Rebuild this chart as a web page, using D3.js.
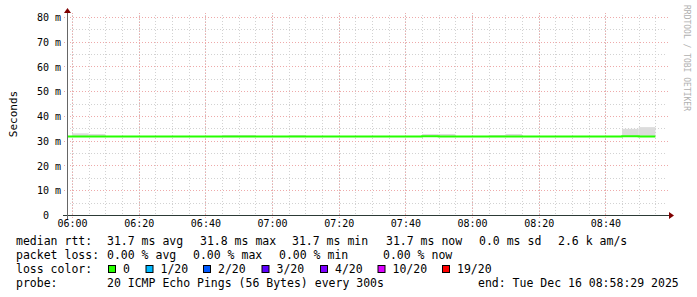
<!DOCTYPE html>
<html>
<head>
<meta charset="utf-8">
<script src="https://cdn.jsdelivr.net/npm/d3@7"></script>
<style>
  body { margin: 0; background: #fff; }
  svg { display: block; }
  text { font-family: "DejaVu Sans Mono", monospace; white-space: pre; }
</style>
</head>
<body>
<svg id="chart" width="697" height="297"></svg>
<script>
// 5 minute steps (start time), median rtt and smoke band (ms)
var stepStarts = ["05:55","06:00","06:05","06:10","06:15","06:20","06:25","06:30","06:35","06:40",
                  "06:45","06:50","06:55","07:00","07:05","07:10","07:15","07:20","07:25","07:30",
                  "07:35","07:40","07:45","07:50","07:55","08:00","08:05","08:10","08:15","08:20",
                  "08:25","08:30","08:35","08:40","08:45","08:50"];
var medianMs = [31.7,31.7,31.7,31.7,31.7,31.7,31.7,31.7,31.7,31.7,
                31.7,31.7,31.7,31.7,31.7,31.7,31.7,31.7,31.7,31.7,
                31.7,31.7,31.8,31.7,31.7,31.7,31.7,31.7,31.7,31.7,
                31.7,31.7,31.7,31.7,31.8,31.7];
var smokeHiMs = [31.9,33.0,32.7,31.9,31.9,31.9,31.9,31.9,31.9,31.9,
                 32.3,32.3,31.9,31.9,32.3,31.9,31.9,31.9,31.9,31.9,
                 31.9,31.9,32.7,32.7,31.9,31.9,32.3,32.7,31.9,31.9,
                 31.9,31.9,31.9,31.9,34.8,35.5];
var smokeLoMs = [31.6,31.6,31.6,31.6,31.6,31.6,31.6,31.6,31.6,31.6,
                 31.6,31.6,31.6,31.6,31.6,31.6,31.6,31.6,31.6,31.6,
                 31.6,31.6,31.6,31.6,31.6,31.6,31.6,31.6,31.6,31.6,
                 31.6,31.6,31.6,31.6,31.6,31.6];
var yTicks = [0, 0.01, 0.02, 0.03, 0.04, 0.05, 0.06, 0.07, 0.08];
var xTickLabels = ["06:00","06:20","06:40","07:00","07:20","07:40","08:00","08:20","08:40"];

var lossLabels = ["0","1/20","2/20","3/20","4/20","10/20","19/20"];
var lossColors = ["#26ff00","#00b8ff","#0059ff","#5e00ff","#7e00ff","#dd00ff","#ff0000"];

var legendRtt = ["31.7 ms avg","31.8 ms max","31.7 ms min","31.7 ms now","0.0 ms sd","2.6 k am/s"];
var legendLoss = ["0.00 % avg","0.00 % max","0.00 % min","0.00 % now"];
var probeText = "20 ICMP Echo Pings (56 Bytes) every 300s";
var endText = "end: Tue Dec 16 08:58:29 2025";

function draw() {
    var day = "2025-12-16T";
    var parseT = d3.timeParse("%Y-%m-%dT%H:%M:%S");
    var tStart = parseT(day + "05:58:29"), tEnd = parseT(day + "08:58:29");

    var svg = d3.select("#chart");
    var pl = 67, pr = 667, pt = 15, pb = 215;

    var x = d3.scaleTime().domain([tStart, tEnd]).range([pl, pr]);
    var y = d3.scaleLinear().domain([0, 0.0808]).range([pb, pt]);

    var steps = stepStarts.map(function(s, i) {
        var t0 = parseT(day + s + ":00");
        return { t0: t0, t1: d3.timeMinute.offset(t0, 5), med: medianMs[i] / 1000,
                 lo: smokeLoMs[i] / 1000, hi: smokeHiMs[i] / 1000 };
    });

    svg.append("defs").append("clipPath").attr("id", "plot")
        .append("rect").attr("x", pl).attr("y", pt).attr("width", pr - pl).attr("height", pb - pt);

    // grid
    var minorX = d3.timeMinute.every(5).range(tStart, tEnd);
    var majorX = d3.timeMinute.every(20).range(tStart, tEnd);
    var minorY = d3.range(0.005, 0.0808, 0.01);
    var minorCol = "#d2d2d2", majorCol = "#eeaaaa";

    var grid = svg.append("g");
    grid.selectAll(".mx").data(minorX).enter().append("line")
        .attr("x1", function(d) { return Math.round(x(d)) + 0.5; })
        .attr("x2", function(d) { return Math.round(x(d)) + 0.5; })
        .attr("y1", pt).attr("y2", pb)
        .attr("stroke", minorCol).attr("stroke-dasharray", "1,2");
    grid.selectAll(".my").data(minorY).enter().append("line")
        .attr("y1", function(d) { return Math.round(y(d)) + 0.5; })
        .attr("y2", function(d) { return Math.round(y(d)) + 0.5; })
        .attr("x1", pl).attr("x2", pr)
        .attr("stroke", minorCol).attr("stroke-dasharray", "1,2");
    grid.selectAll(".Mx").data(majorX).enter().append("line")
        .attr("x1", function(d) { return Math.round(x(d)) + 0.5; })
        .attr("x2", function(d) { return Math.round(x(d)) + 0.5; })
        .attr("y1", pt - 2).attr("y2", pb + 3)
        .attr("stroke", majorCol).attr("stroke-dasharray", "1,2");
    grid.selectAll(".My").data(yTicks.slice(1)).enter().append("line")
        .attr("y1", function(d) { return Math.round(y(d)) + 0.5; })
        .attr("y2", function(d) { return Math.round(y(d)) + 0.5; })
        .attr("x1", pl - 3).attr("x2", pr + 2)
        .attr("stroke", majorCol).attr("stroke-dasharray", "1,2");

    // smoke
    var plot = svg.append("g").attr("clip-path", "url(#plot)");
    plot.selectAll("rect.smoke").data(steps).enter().append("rect")
        .attr("class", "smoke")
        .attr("x", function(d) { return x(d.t0); })
        .attr("width", function(d) { return x(d.t1) - x(d.t0); })
        .attr("y", function(d) { return y(d.hi); })
        .attr("height", function(d) { return y(d.lo) - y(d.hi); })
        .attr("fill", "#dcdcdc");

    // median line
    var pts = [];
    steps.forEach(function(d) { pts.push([d.t0, d.med]); pts.push([d.t1, d.med]); });
    var line = d3.line().x(function(d) { return x(d[0]); }).y(function(d) { return y(d[1]); });
    plot.append("path").datum(pts)
        .attr("d", line).attr("fill", "none")
        .attr("stroke", lossColors[0]).attr("stroke-width", 2);

    // axes
    var axisColor = "#2c3a36", arrowColor = "#7f0000";
    svg.append("line").attr("x1", pl - 4).attr("x2", pr + 3)
        .attr("y1", pb + 0.5).attr("y2", pb + 0.5).attr("stroke", axisColor);
    svg.append("line").attr("x1", pl + 0.5).attr("x2", pl + 0.5)
        .attr("y1", pb + 4).attr("y2", pt - 2).attr("stroke", "#666");
    svg.append("path").attr("d", "M" + (pr + 2) + "," + (pb - 3) + "L" + (pr + 7) + "," + (pb + 0.5) + "L" + (pr + 2) + "," + (pb + 4) + "Z")
        .attr("fill", arrowColor);
    svg.append("path").attr("d", "M" + (pl - 3) + "," + (pt - 2) + "L" + (pl + 0.5) + "," + (pt - 7) + "L" + (pl + 4) + "," + (pt - 2) + "Z")
        .attr("fill", arrowColor);

    var yAxis = d3.axisLeft(y).tickValues(yTicks).tickSize(0).tickPadding(0)
        .tickFormat(function(d) { return d === 0 ? "0  " : Math.round(d * 1000) + " m"; });
    var gy = svg.append("g").attr("transform", "translate(" + (pl - 6) + ",0)").call(yAxis);
    gy.select(".domain").remove();
    gy.selectAll("text").attr("font-family", "DejaVu Sans Mono").attr("font-size", "10px")
        .attr("fill", "#000").attr("dy", "0.36em");

    var xAxis = d3.axisBottom(x).tickValues(majorX).tickSize(0).tickPadding(0)
        .tickFormat(function(d, i) { return xTickLabels[i]; });
    var gx = svg.append("g").attr("transform", "translate(0," + (pb + 5) + ")").call(xAxis);
    gx.select(".domain").remove();
    gx.selectAll("text").attr("font-family", "DejaVu Sans Mono").attr("font-size", "10px")
        .attr("fill", "#000").attr("dy", "0.72em");

    // labels
    svg.append("text").attr("transform", "translate(17,114) rotate(-90)")
        .attr("text-anchor", "middle").attr("font-size", "11px").text("Seconds");
    svg.append("text").attr("transform", "translate(684,5) rotate(90)")
        .attr("font-size", "8px").attr("fill", "#b0b0b0").text("RRDTOOL / TOBI OETIKER");

    // legend
    var leg = svg.append("g").attr("font-size", "11.5px").attr("fill", "#000");
    var rttX = [107, 200, 292, 386, 479, 558];
    var lossX = [107, 193, 279, 383];
    leg.append("text").attr("x", 16).attr("y", 245).text("median rtt:");
    leg.selectAll(".rtt").data(legendRtt).enter().append("text")
        .attr("x", function(d, i) { return rttX[i]; }).attr("y", 245).text(function(d) { return d; });
    leg.append("text").attr("x", 16).attr("y", 259).text("packet loss:");
    leg.selectAll(".pl").data(legendLoss).enter().append("text")
        .attr("x", function(d, i) { return lossX[i]; }).attr("y", 259).text(function(d) { return d; });
    leg.append("text").attr("x", 16).attr("y", 273).text("loss color:");
    var boxX = [108, 145.5, 203, 261.5, 320, 377.5, 442];
    leg.selectAll(".lb").data(lossColors).enter().append("rect")
        .attr("x", function(d, i) { return boxX[i] + 0.5; }).attr("y", 265.5)
        .attr("width", 7).attr("height", 7)
        .attr("fill", function(d) { return d; }).attr("stroke", "#000");
    leg.selectAll(".ll").data(lossLabels).enter().append("text")
        .attr("x", function(d, i) { return boxX[i] + 15; }).attr("y", 273)
        .text(function(d) { return d; });
    leg.append("text").attr("x", 16).attr("y", 287).text("probe:");
    leg.append("text").attr("x", 107).attr("y", 287).text(probeText);
    leg.append("text").attr("x", 478).attr("y", 287).text(endText);
}

draw();
</script>
</body>
</html>
